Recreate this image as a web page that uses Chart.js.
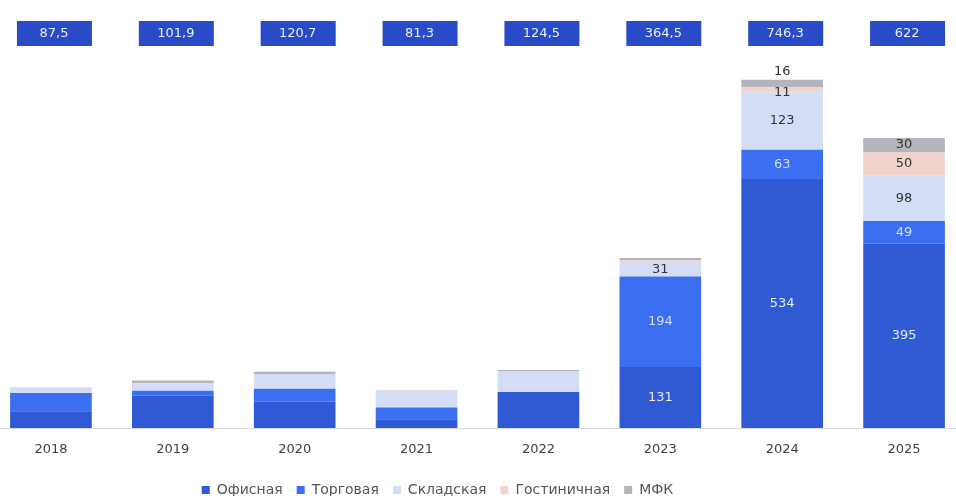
<!DOCTYPE html>
<html>
<head>
<meta charset="utf-8">
<script src="https://cdn.jsdelivr.net/npm/chart.js"></script>
<style>
  html, body { margin: 0; padding: 0; background: #fff; overflow: hidden; }
  #wrap { position: absolute; left: -10px; top: 0; width: 975px; height: 496px; }
</style>
</head>
<body>
<div id="wrap"><canvas id="volumeChart"></canvas></div>
<script>
// Years and segment volumes
const years = ['2018', '2019', '2020', '2021', '2022', '2023', '2024', '2025'];
const office = [36, 69, 57, 19, 77, 131, 534, 395];
const retail = [39, 11, 27, 25, 0, 194, 63, 49];
const warehouse = [12.5, 16, 30.7, 36, 43, 31, 123, 98];
const hotel = [0, 0, 0, 1.3, 2.5, 4.5, 11, 50];
const mixedUse = [0, 5.9, 6, 0, 2, 4, 16, 30];
const totals = ['87,5', '101,9', '120,7', '81,3', '124,5', '364,5', '746,3', '622'];
const labelledYears = ['2023', '2024', '2025'];

const FONT = "'DejaVu Sans', Verdana, sans-serif";

// Totals in blue boxes above every column
const totalsPlugin = {
    id: 'totals',
    afterDatasetsDraw(chart) {
        const ctx = chart.ctx;
        const x = chart.scales.x;
        ctx.save();
        ctx.font = '13px ' + FONT;
        ctx.textAlign = 'center';
        ctx.textBaseline = 'middle';
        totals.forEach((t, i) => {
            const cx = x.getPixelForValue(i) + 3;
            ctx.fillStyle = '#2a4bc8';
            ctx.fillRect(cx - 37, 21, 75, 25);
            ctx.fillStyle = '#e8ecff';
            ctx.fillText(t, cx, 34);
        });
        ctx.restore();
    }
};

// Segment values for the last years
const segmentLabels = {
    id: 'segmentLabels',
    afterDatasetsDraw(chart) {
        const ctx = chart.ctx;
        ctx.save();
        ctx.font = '13px ' + FONT;
        ctx.textAlign = 'center';
        ctx.textBaseline = 'middle';
        chart.data.datasets.forEach((ds, di) => {
            const meta = chart.getDatasetMeta(di);
            meta.data.forEach((bar, i) => {
                const v = ds.data[i];
                if (!labelledYears.includes(years[i]) || v < 10) return;
                const h = bar.base - bar.y;
                let y = bar.y + h / 2;
                if (di === 4 && h < 10) y = bar.y - 8;
                if (di === 3 && h < 10) y = bar.y + h / 2 + 3;
                ctx.fillStyle = ds.labelColor;
                ctx.fillText(String(v), bar.x, y);
            });
        });
        ctx.restore();
    }
};

// Move the legend left of centre and down to the bottom edge
const legendShift = {
    id: 'legendShift',
    afterLayout(chart) {
        const lg = chart.legend;
        lg.left -= 40;
        lg.right -= 40;
        lg.top += 11;
        lg.bottom += 11;
    }
};

new Chart(document.getElementById('volumeChart'), {
    type: 'bar',
    data: {
        labels: years,
        datasets: [
            { label: 'Офисная', data: office, backgroundColor: '#2f5ad4', labelColor: '#e4eaff' },
            { label: 'Торговая', data: retail, backgroundColor: '#3b6ef0', labelColor: '#d2ddff' },
            { label: 'Складская', data: warehouse, backgroundColor: '#d3def6', labelColor: '#333' },
            { label: 'Гостиничная', data: hotel, backgroundColor: '#f1d3cd', labelColor: '#333' },
            { label: 'МФК', data: mixedUse, backgroundColor: '#b4b4bc', labelColor: '#333' }
        ]
    },
    options: {
        responsive: true,
        maintainAspectRatio: false,
        animation: false,
        layout: { padding: { top: 55, bottom: 0 } },
        datasets: { bar: { barPercentage: 0.67, categoryPercentage: 1 } },
        scales: {
            x: {
                stacked: true,
                grid: { display: false, drawTicks: false },
                border: { display: true, color: '#d9d9d9' },
                ticks: { color: '#404040', font: { family: FONT, size: 13 }, padding: 14 },
                afterFit(s) { s.height = 30; }
            },
            y: {
                stacked: true,
                display: false,
                min: 0,
                max: 800
            }
        },
        plugins: {
            legend: {
                position: 'bottom',
                labels: {
                    boxWidth: 8,
                    boxHeight: 8,
                    padding: 14,
                    color: '#555',
                    font: { family: FONT, size: 14 }
                }
            },
            tooltip: { enabled: false }
        }
    },
    plugins: [totalsPlugin, segmentLabels, legendShift]
});
</script>
</body>
</html>
